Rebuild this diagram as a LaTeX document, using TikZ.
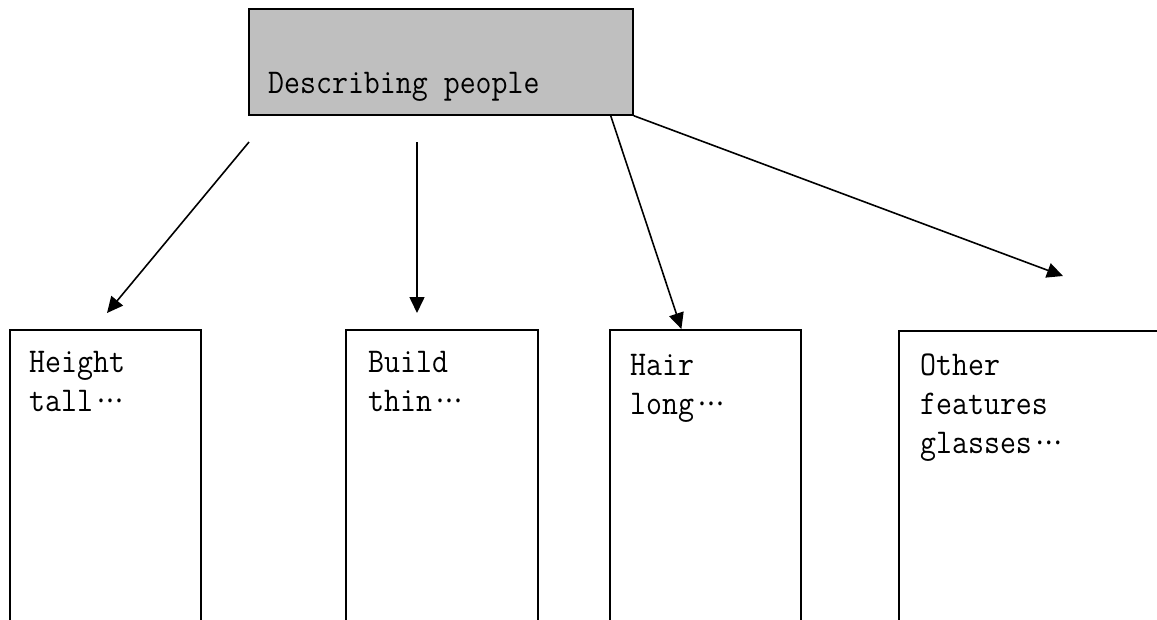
\documentclass[tikz,border=0pt]{standalone}
\usepackage{graphicx}
\usepackage{tikz}
\usetikzlibrary{positioning}
\usetikzlibrary{arrows.meta}

% tall narrow letters, dots set at mid height
\newcommand{\tallt}[1]{\scalebox{1}[1.12]{#1}}
\newcommand{\middots}{\textperiodcentered\kern-7pt\textperiodcentered\kern-7pt\textperiodcentered}

\begin{document}
\begin{tikzpicture}[x=1pt,y=-1pt]
    \tikzstyle{title}=[rectangle, fill=black!25, draw=black, line width=1.7pt,
            minimum width=384pt, minimum height=106pt, inner sep=0pt]
    \tikzstyle{topic}=[rectangle, draw=black, line width=1.8pt,
            minimum height=340pt, inner sep=0pt]
    \tikzstyle{words}=[font=\ttfamily\fontsize{31}{39}\selectfont,
            align=left, inner sep=0pt]
    \tikzstyle{link}=[line width=1.6pt, -{Triangle[length=16pt,width=15pt]}]

    \useasboundingbox (0,0) rectangle (1157,619);
    \clip (0,0) rectangle (1157,619);

        \node[title, anchor=north west] (desc) at (248,8) {};
        \node[words, anchor=base west] (desct) at (268,93)
            {\tallt{Describing people}};

        \foreach \n/\x/\y/\w/\dx/\dy/\txt in
            {0/9/329/191/20/22/{\tallt{Height}\\\tallt{tall\middots}},
             1/345/329/192/23/22/{\tallt{Build}\\\tallt{thin\middots}},
             2/609/329/191/21/25/{\tallt{Hair}\\\tallt{long\middots}},
             3/898/330/330/22/24/{\tallt{Other}\\\tallt{features}\\\tallt{glasses\middots}}}
        {
            \node[topic, minimum width=\w pt, anchor=north west] (c\n) at (\x,\y) {};
            \node[words, anchor=north west] (t\n) at (\x+\dx,\y+\dy) {\txt};
        }

        \coordinate (s0) at (249,142);
        \coordinate (e0) at (107,313);
        \coordinate (s1) at (417,142);
        \coordinate (e1) at (417,313);
        \coordinate (e3) at (1063,276);

        \draw[link] (s0) -- (e0);
        \draw[link] (s1) -- (e1);
        \draw[link] ([xshift=-23pt]desc.south east) -- ([xshift=-24pt]c2.north);
        \draw[link] (desc.south east) -- (e3);
    \end{tikzpicture}
\end{document}
